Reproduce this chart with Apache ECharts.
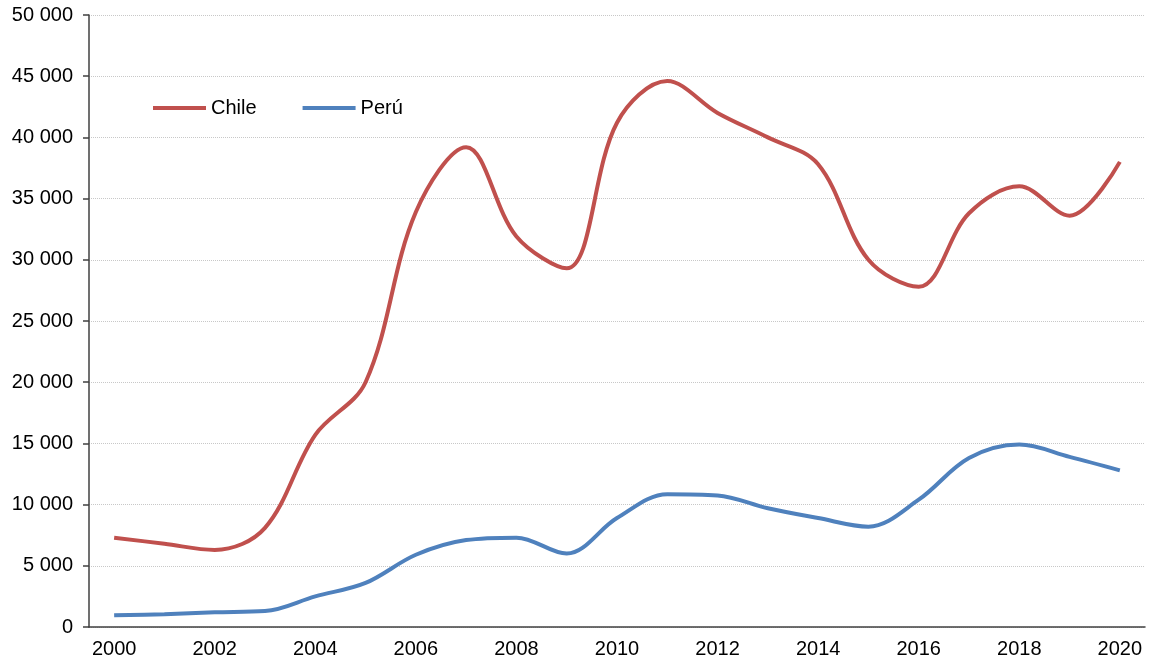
<!DOCTYPE html>
<html>
<head>
<meta charset="utf-8">
<script src="https://cdn.jsdelivr.net/npm/echarts@6/dist/echarts.min.js"></script>
<style>
  html, body { margin: 0; padding: 0; background: #fff; }
  #main { width: 1150px; height: 664px; }
</style>
</head>
<body>
<div id="main"></div>
<script>
var years = ['2000', '2001', '2002', '2003', '2004', '2005', '2006', '2007', '2008', '2009', '2010',
    '2011', '2012', '2013', '2014', '2015', '2016', '2017', '2018', '2019', '2020'];
var chile = [7300, 6800, 6300, 8100, 15700, 20000, 33900, 39200, 31900, 29300, 41200,
    44600, 42000, 40000, 37800, 30000, 27800, 33800, 36000, 33600, 38000];
var peru = [950, 1050, 1200, 1300, 2500, 3600, 5900, 7100, 7300, 6000, 8900,
    10850, 10750, 9700, 8900, 8200, 10400, 13800, 14900, 13900, 12800];

var fmt = v => String(v).replace(/\B(?=(\d{3})+(?!\d))/g, ' ');

var chart = echarts.init(document.getElementById('main'));
var axisCol = '#404040';
var font = 'Liberation Sans, Arial, sans-serif';

var option = {
    animation: false,
    textStyle: { fontFamily: font },
    grid: { left: 89, right: 5, top: 15, bottom: 37 },
    legend: {
        left: 148,
        top: 93,
        itemWidth: 53,
        itemHeight: 4,
        itemGap: 46,
        icon: 'rect',
        textStyle: { fontSize: 20, color: '#000', fontFamily: font },
        data: ['Chile', 'Perú']
    },
    xAxis: {
        type: 'category',
        data: years,
        boundaryGap: true,
        axisLine: { lineStyle: { color: axisCol, width: 1.5 } },
        axisTick: { interval: 0, length: 6, lineStyle: { color: axisCol, width: 1.5 } },
        axisLabel: { interval: 1, fontSize: 20, color: '#000', margin: 12 },
        splitLine: { show: false }
    },
    yAxis: {
        type: 'value',
        min: 0,
        max: 50000,
        interval: 5000,
        axisLine: { show: true, lineStyle: { color: axisCol, width: 1.5 } },
        axisTick: { show: true, length: 6, lineStyle: { color: axisCol, width: 1.5 } },
        axisLabel: { fontSize: 20, color: '#000', margin: 16, formatter: fmt },
        splitLine: { lineStyle: { color: '#c8c8c8', type: 'dotted', width: 1 } }
    },
    series: [
        {
            name: 'Chile',
            type: 'line',
            data: chile,
            smooth: 0.35,
            symbol: 'none',
            color: '#C0504D',
            lineStyle: { width: 4, color: '#C0504D' }
        },
        {
            name: 'Perú',
            type: 'line',
            data: peru,
            smooth: 0.35,
            symbol: 'none',
            color: '#4F81BD',
            lineStyle: { width: 4, color: '#4F81BD' }
        }
    ]
};
chart.setOption(option);
</script>
</body>
</html>
